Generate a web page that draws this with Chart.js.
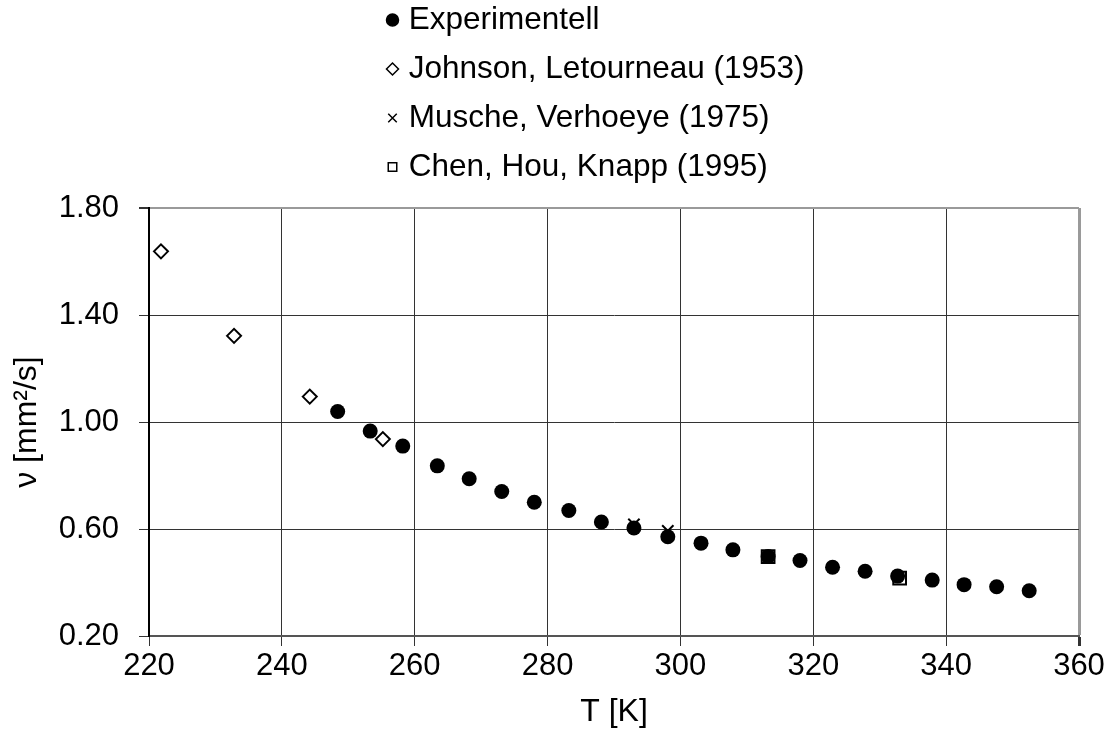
<!DOCTYPE html>
<html>
<head>
<meta charset="utf-8">
<script src="https://cdn.jsdelivr.net/npm/chart.js@4/dist/chart.umd.min.js"></script>
<style>
  html, body { margin: 0; padding: 0; background: #ffffff; }
  #wrap { width: 1117px; height: 753px; position: relative; }
</style>
</head>
<body>
<div id="wrap"><canvas id="c" width="1117" height="753"></canvas></div>
<script>
// ---- data ----
const seriesNames = ['Experimentell', 'Johnson, Letourneau (1953)', 'Musche, Verhoeye (1975)', 'Chen, Hou, Knapp (1995)'];

const expT  = [248.4, 253.3, 258.2, 263.4, 268.2, 273.1, 278.0, 283.2, 288.1, 293.0, 298.1, 303.1, 307.9, 313.2, 318.0, 322.9, 327.8, 332.7, 337.9, 342.7, 347.6, 352.5];
const expNu = [1.039, 0.966, 0.910, 0.836, 0.788, 0.740, 0.700, 0.669, 0.626, 0.604, 0.571, 0.547, 0.522, 0.497, 0.482, 0.457, 0.442, 0.424, 0.409, 0.392, 0.384, 0.369];

const johnsonT  = [221.8, 232.8, 244.2, 255.2];
const johnsonNu = [1.638, 1.322, 1.095, 0.936];

const muscheT  = [293.0, 298.1];
const muscheNu = [0.617, 0.593];

const chenT  = [333.0, 313.2];
const chenNu = [0.416, 0.497];

const xTickValues = [220, 240, 260, 280, 300, 320, 340, 360];
const yTickValues = [0.20, 0.60, 1.00, 1.40, 1.80];
const xTitle = 'T [K]';
const yTitle = 'ν [mm²/s]';

// ---- helpers ----
const pts = (xs, ys) => xs.map((x, i) => ({ x: x, y: ys[i] }));

Chart.defaults.font.family = "'Liberation Sans', Arial, sans-serif";
Chart.defaults.color = '#000';

const LEGEND_BOX_W = 480;   // narrow legend box => one item per row
const LEGEND_LEFT = 374.5;
const LEGEND_TOP = -13.25;
const LEGEND_HEIGHT = 208;

const legendColumn = {
  id: 'legendColumn',
  beforeLayout(chart) {
    const lg = chart.legend;
    if (!lg || lg.__patched) return;
    lg.__patched = true;
    const fit0 = lg.fit;
    lg.fit = function () {
      const mw = this.maxWidth;
      this.maxWidth = LEGEND_BOX_W;
      fit0.call(this);
      this.maxWidth = mw;
      this.width = mw;
      this.height = LEGEND_HEIGHT;
    };
    const draw0 = lg.draw;
    lg.draw = function (area) {
      const saved = { left: this.left, right: this.right, top: this.top };
      this.left = LEGEND_LEFT;
      this.right = LEGEND_LEFT + LEGEND_BOX_W;
      this.top = LEGEND_TOP;
      draw0.call(this, area);
      Object.assign(this, saved);
    };
  }
};

const isV = (ctx, v) => ctx.tick && Math.abs(ctx.tick.value - v) < 1e-9;

new Chart(document.getElementById('c'), {
  type: 'scatter',
  data: {
    datasets: [
      {
        label: seriesNames[0],
        data: pts(expT, expNu),
        pointStyle: 'circle',
        pointRadius: 7.5,
        pointHoverRadius: 7.5,
        backgroundColor: '#000',
        borderColor: '#000',
        borderWidth: 0
      },
      {
        label: seriesNames[1],
        data: pts(johnsonT, johnsonNu),
        pointStyle: 'rectRot',
        pointRadius: 7,
        pointHoverRadius: 7,
        backgroundColor: '#fff',
        borderColor: '#000',
        borderWidth: 2
      },
      {
        label: seriesNames[2],
        data: pts(muscheT, muscheNu),
        pointStyle: 'crossRot',
        pointRadius: 8,
        pointHoverRadius: 8,
        backgroundColor: '#000',
        borderColor: '#000',
        borderWidth: 2
      },
      {
        label: seriesNames[3],
        data: pts(chenT, chenNu),
        pointStyle: 'rect',
        pointRadius: 9,
        pointHoverRadius: 9,
        backgroundColor: '#fff',
        borderColor: '#000',
        borderWidth: 2
      }
    ]
  },
  options: {
    responsive: false,
    animation: false,
    devicePixelRatio: 1,
    layout: { padding: { left: 0, right: 38, top: 0, bottom: 0 } },
    plugins: {
      tooltip: { enabled: false },
      legend: {
        display: true,
        position: 'top',
        align: 'start',
        labels: {
          usePointStyle: true,
          boxWidth: 1,
          boxHeight: 8.5,
          padding: 17.5,
          color: '#000',
          font: { size: 31.5 },
          generateLabels(chart) {
            const items = Chart.defaults.plugins.legend.labels.generateLabels(chart);
            items.forEach(it => {
              it.lineWidth = 1.5;
              it.fillStyle = it.datasetIndex === 0 ? '#000' : '#fff';
              it.strokeStyle = '#000';
            });
            return items;
          }
        }
      }
    },
    scales: {
      x: {
        type: 'linear',
        min: 220,
        max: 360,
        afterBuildTicks(scale) { scale.ticks = xTickValues.map(v => ({ value: v })); },
        afterFit(scale) { scale.height = 117; },
        ticks: {
          padding: 2,
          maxRotation: 0,
          autoSkip: false,
          font: { size: 31 },
          color: '#000',
          callback: v => String(v)
        },
        grid: {
          color: ctx => isV(ctx, 360) ? '#9a9a9a' : '#333',
          lineWidth: ctx => isV(ctx, 360) ? 3 : 1,
          tickColor: '#333',
          tickLength: 10,
          drawTicks: true
        },
        border: { display: true, color: '#555', width: 2 },
        title: {
          display: true,
          text: xTitle,
          font: { size: 32 },
          color: '#000',
          padding: { top: 0, bottom: 22 }
        }
      },
      y: {
        type: 'linear',
        min: 0.2,
        max: 1.8,
        afterBuildTicks(scale) { scale.ticks = yTickValues.map(v => ({ value: v })); },
        afterFit(scale) { scale.width = 149; },
        ticks: {
          padding: 20,
          autoSkip: false,
          font: { size: 31 },
          color: '#000',
          callback: v => Number(v).toFixed(2)
        },
        grid: {
          color: ctx => isV(ctx, 1.8) ? '#9a9a9a' : '#333',
          lineWidth: ctx => isV(ctx, 1.8) ? 2 : 1,
          tickColor: '#333',
          tickLength: 10,
          drawTicks: true
        },
        border: { display: true, color: '#000', width: 2 },
        title: {
          display: true,
          text: yTitle,
          font: { size: 32 },
          color: '#000',
          padding: { top: 8, bottom: 0 }
        }
      }
    }
  },
  plugins: [legendColumn]
});
</script>
</body>
</html>
